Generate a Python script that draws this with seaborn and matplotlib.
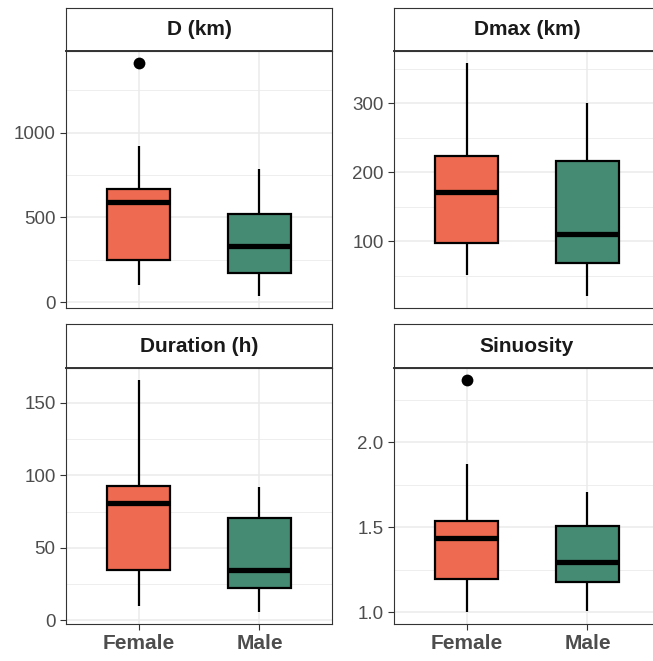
import numpy as np
import pandas as pd
import seaborn as sns
import matplotlib.pyplot as plt

sexes = ["Female", "Male"]
panel_titles = ["D (km)", "Dmax (km)", "Duration (h)", "Sinuosity"]

# five-number summaries: lower whisker, Q1, median, Q3, upper whisker
d_female = [100, 247, 588, 670, 918]
d_male = [35, 170, 330, 518, 788]
dmax_female = [51, 98, 171, 223, 359]
dmax_male = [20, 69, 110, 217, 301]
duration_female = [9.6, 34.4, 81, 92.4, 166]
duration_male = [5.5, 22, 35, 70.4, 91.7]
sinuosity_female = [1.0, 1.194, 1.435, 1.535, 1.876]
sinuosity_male = [1.006, 1.176, 1.294, 1.506, 1.71]

# outliers (all female)
d_outliers = [1412]
dmax_outliers = []
duration_outliers = []
sinuosity_outliers = [2.37]

d_ticks = [0, 500, 1000]
dmax_ticks = [100, 200, 300]
duration_ticks = [0, 50, 100, 150]
sinuosity_ticks = [1.0, 1.5, 2.0]

palette = {"Female": "#EE6A50", "Male": "#458B74"}

sns.set_theme(style="white")
plt.rcParams["font.family"] = ["Liberation Sans", "DejaVu Sans"]

panels = [
    (d_female, d_male, d_outliers, d_ticks, "{:.0f}"),
    (dmax_female, dmax_male, dmax_outliers, dmax_ticks, "{:.0f}"),
    (duration_female, duration_male, duration_outliers, duration_ticks, "{:.0f}"),
    (sinuosity_female, sinuosity_male, sinuosity_outliers, sinuosity_ticks, "{:.1f}"),
]

W, H = 653, 661
fig = plt.figure(figsize=(W / 100, H / 100), dpi=100)

# panel boxes in pixels: left, top of strip, bottom of strip, bottom of panel
col_x = [66, 394]
row_y = [(8, 51, 308), (324, 368, 624)]
panel_w = 266

for i, (fem, mal, outl, ticks, fmt) in enumerate(panels):
    r, c = divmod(i, 2)
    x0 = col_x[c]
    s_top, p_top, p_bot = row_y[r]

    ax = fig.add_axes([x0 / W, 1 - p_bot / H, panel_w / W, (p_bot - p_top) / H])
    sax = fig.add_axes([x0 / W, 1 - p_top / H, panel_w / W, (p_top - s_top) / H])

    df = pd.DataFrame({"sex": ["Female"] * len(fem) + ["Male"] * len(mal),
                       "value": fem + mal})
    sns.boxplot(data=df, x="sex", y="value", hue="sex", order=sexes, hue_order=sexes,
                palette=palette, saturation=1, width=0.52, whis=(0, 100),
                linecolor="black", linewidth=1.6, showfliers=False, showcaps=False,
                medianprops={"linewidth": 3.8, "solid_capstyle": "butt"},
                legend=False, ax=ax, zorder=3)
    if outl:
        sns.stripplot(x=["Female"] * len(outl), y=outl, order=sexes, color="black",
                      size=8.5, jitter=False, ax=ax, zorder=4)

    allv = fem + mal + outl
    lo, hi = min(allv), max(allv)
    pad = (hi - lo) * 0.05
    ax.set_ylim(lo - pad, hi + pad)
    ax.set_xlim(-0.6, 1.6)

    ax.set_yticks(ticks)
    ax.set_yticklabels([fmt.format(t) for t in ticks])
    step = ticks[1] - ticks[0]
    minor = np.arange(ticks[0] - step / 2, hi + pad, step)
    minor = [m for m in minor if lo - pad < m < hi + pad]
    ax.set_yticks(minor, minor=True)

    ax.set_axisbelow(True)
    ax.grid(True, which="major", color="#EBEBEB", linewidth=1.1)
    ax.grid(True, which="minor", axis="y", color="#EBEBEB", linewidth=0.6)
    ax.set_xlabel("")
    ax.set_ylabel("")

    ax.tick_params(axis="y", which="major", length=4, width=0.8, color="#333333",
                   labelsize=13.5, labelcolor="#4D4D4D", pad=3.5, left=True)
    ax.tick_params(axis="y", which="minor", length=0)
    if r == 1:
        ax.tick_params(axis="x", length=4, width=0.8, color="#333333", bottom=True,
                       pad=3.5)
        for lab in ax.get_xticklabels():
            lab.set_fontsize(15)
            lab.set_fontweight("bold")
            lab.set_color("#4D4D4D")
    else:
        ax.tick_params(axis="x", length=0, labelbottom=False)

    for sp in ax.spines.values():
        sp.set_color("#333333")
        sp.set_linewidth(0.8)

    sax.set_facecolor("white")
    sax.set_xticks([])
    sax.set_yticks([])
    for sp in sax.spines.values():
        sp.set_color("#333333")
        sp.set_linewidth(0.8)
    sax.spines["bottom"].set_linewidth(1.4)
    sax.text(0.5, 0.5, panel_titles[i], ha="center", va="center",
             fontsize=15, fontweight="bold", color="#1A1A1A", transform=sax.transAxes)

fig.savefig("out.png", dpi=100)
